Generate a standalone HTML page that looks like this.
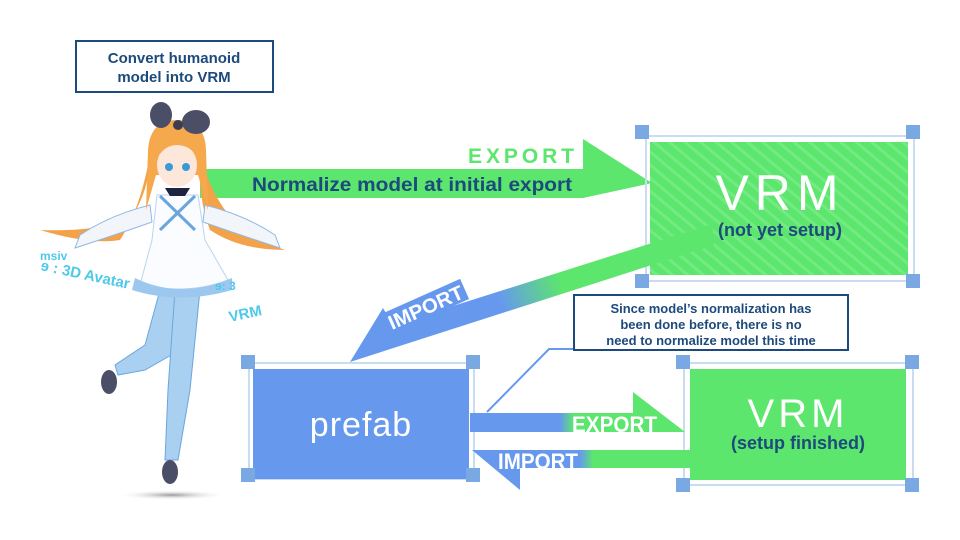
<!DOCTYPE html>
<html><head><meta charset="utf-8"><style>
html,body{margin:0;padding:0;background:#fff;}
svg{display:block;}
text{font-family:"Liberation Sans Narrow","Liberation Sans",sans-serif;}
</style></head><body>
<svg width="960" height="540" viewBox="0 0 960 540" xmlns="http://www.w3.org/2000/svg">
<defs>
<pattern id="st" width="10" height="10" patternUnits="userSpaceOnUse" patternTransform="rotate(-50)">
<rect width="10" height="10" fill="#5ce66e"/><rect width="3" height="10" fill="#74ea83"/></pattern>
<linearGradient id="gd" x1="650" y1="250" x2="350" y2="350" gradientUnits="userSpaceOnUse">
<stop offset="0" stop-color="#5ce66e"/><stop offset="0.3" stop-color="#5ce66e"/><stop offset="0.5" stop-color="#6699ee"/><stop offset="1" stop-color="#6699ee"/></linearGradient>
<linearGradient id="ge" x1="470" y1="0" x2="690" y2="0" gradientUnits="userSpaceOnUse">
<stop offset="0.41" stop-color="#6699ee"/><stop offset="0.47" stop-color="#5ce66e"/></linearGradient>
<linearGradient id="gi" x1="470" y1="0" x2="690" y2="0" gradientUnits="userSpaceOnUse">
<stop offset="0.5" stop-color="#6699ee"/><stop offset="0.56" stop-color="#5ce66e"/></linearGradient>
<radialGradient id="sh"><stop offset="0" stop-color="#999"/><stop offset="1" stop-color="#fff" stop-opacity="0"/></radialGradient>
</defs>

<rect x="76" y="41" width="197" height="51" fill="#fff" stroke="#1d4a7c" stroke-width="2"/>
<text x="174" y="63" text-anchor="middle" font-size="15" font-weight="bold" fill="#1d4a7c">Convert humanoid</text>
<text x="174" y="82" text-anchor="middle" font-size="15" font-weight="bold" fill="#1d4a7c">model into VRM</text>

<polygon points="200,169 583,169 583,139 652,183 583,198 200,198" fill="#5ce66e"/>
<text x="468" y="163" font-size="21" font-weight="bold" fill="#5ce66e" textLength="106" lengthAdjust="spacing">EXPORT</text>
<text x="252" y="191" font-size="19" font-weight="bold" fill="#1d4a7c" textLength="320" lengthAdjust="spacingAndGlyphs">Normalize model at initial export</text>

<rect x="646" y="136" width="268" height="145" fill="none" stroke="#c9ddf0" stroke-width="2"/>
<rect x="650" y="142" width="258" height="133" fill="url(#st)"/>
<rect x="635" y="125" width="14" height="14" fill="#7aa8e2"/><rect x="906" y="125" width="14" height="14" fill="#7aa8e2"/>
<rect x="635" y="274" width="14" height="14" fill="#7aa8e2"/><rect x="906" y="274" width="14" height="14" fill="#7aa8e2"/>
<text x="780" y="210" text-anchor="middle" font-size="50" fill="#fff" letter-spacing="6">VRM</text>
<text x="780" y="236" text-anchor="middle" font-size="18" font-weight="bold" fill="#1d4a7c">(not yet setup)</text>

<polygon points="712,224 714,245 350,362 383,308 393,325" fill="url(#gd)"/>
<g transform="translate(392,330) rotate(-24)">
<rect x="-3" y="-19" width="86" height="22" fill="#6699ee"/>
<text x="0" y="0" font-size="20" font-weight="bold" fill="#fff" textLength="80" lengthAdjust="spacingAndGlyphs">IMPORT</text>
</g>

<polyline points="574,349 549,349 487,412" fill="none" stroke="#6699ee" stroke-width="2"/>
<rect x="574" y="295" width="274" height="55" fill="#fff" stroke="#1d4a7c" stroke-width="2"/>
<text x="711" y="313" text-anchor="middle" font-size="13" font-weight="bold" fill="#1d4a7c">Since model’s normalization has</text>
<text x="711" y="329" text-anchor="middle" font-size="13" font-weight="bold" fill="#1d4a7c">been done before, there is no</text>
<text x="711" y="345" text-anchor="middle" font-size="13" font-weight="bold" fill="#1d4a7c">need to normalize model this time</text>

<rect x="249" y="363" width="225" height="116" fill="none" stroke="#c9ddf0" stroke-width="2"/>
<rect x="253" y="369" width="216" height="110" fill="#6699ee"/>
<rect x="241" y="355" width="14" height="14" fill="#7aa8e2"/><rect x="466" y="355" width="14" height="14" fill="#7aa8e2"/>
<rect x="241" y="468" width="14" height="14" fill="#7aa8e2"/><rect x="466" y="468" width="14" height="14" fill="#7aa8e2"/>
<text x="361" y="436" text-anchor="middle" font-size="34" fill="#fff" letter-spacing="1">prefab</text>

<rect x="684" y="363" width="229" height="122" fill="none" stroke="#c9ddf0" stroke-width="2"/>
<rect x="690" y="369" width="216" height="111" fill="#5ce66e"/>
<rect x="676" y="355" width="14" height="14" fill="#7aa8e2"/><rect x="905" y="355" width="14" height="14" fill="#7aa8e2"/>
<rect x="676" y="478" width="14" height="14" fill="#7aa8e2"/><rect x="905" y="478" width="14" height="14" fill="#7aa8e2"/>
<text x="798" y="427" text-anchor="middle" font-size="40" fill="#fff" letter-spacing="4">VRM</text>
<text x="798" y="449" text-anchor="middle" font-size="18" font-weight="bold" fill="#1d4a7c">(setup finished)</text>

<polygon points="470,413 633,413 633,392 685,432 470,432" fill="url(#ge)"/>
<text x="572" y="432" font-size="22" font-weight="bold" fill="#fff" textLength="85" lengthAdjust="spacingAndGlyphs">EXPORT</text>
<polygon points="690,450 690,468 520,468 520,490 472,450" fill="url(#gi)"/>
<text x="498" y="469" font-size="22" font-weight="bold" fill="#fff" textLength="80" lengthAdjust="spacingAndGlyphs">IMPORT</text>

<ellipse cx="172" cy="495" rx="55" ry="5" fill="url(#sh)"/>
<path d="M150,155 Q140,210 120,240 Q90,245 40,230 Q90,232 130,220 Q150,190 150,155Z" fill="#f4a24a"/>
<path d="M200,155 Q215,210 250,235 Q270,245 285,250 Q240,250 210,230 Q198,200 200,155Z" fill="#f4a24a"/>
<path d="M150,205 Q110,215 80,235 L75,248 Q115,235 152,222Z" fill="#f2f6fb" stroke="#8fb8e6"/>
<path d="M205,205 Q245,215 275,235 L280,248 Q240,235 203,222Z" fill="#f2f6fb" stroke="#8fb8e6"/>
<path d="M160,290 L185,290 L180,350 L145,370 L118,375 L115,365 L145,345Z" fill="#a9d0f0" stroke="#6aa6dc"/>
<path d="M175,290 L200,290 L190,390 L178,460 L165,460 L168,390Z" fill="#a9d0f0" stroke="#6aa6dc"/>
<ellipse cx="109" cy="382" rx="8" ry="12" fill="#4a4e66"/>
<ellipse cx="170" cy="472" rx="8" ry="12" fill="#4a4e66"/>
<path d="M157,195 L198,195 L205,240 L228,280 Q190,295 140,285 L152,240Z" fill="#fafcff" stroke="#b9d5ef"/>
<path d="M135,278 Q180,300 232,278 L232,290 Q180,305 132,290Z" fill="#9cc8ef"/>
<path d="M160,196 L195,230 M195,196 L160,230" stroke="#6aa6dc" stroke-width="3"/>
<path d="M148,150 Q150,120 177,120 Q205,120 206,150 L208,210 L198,175 L156,175 L146,210Z" fill="#f6a84d"/>
<ellipse cx="177" cy="165" rx="20" ry="22" fill="#fde6da"/>
<path d="M157,158 Q165,135 177,135 Q192,135 198,158 Q190,145 177,145 Q165,145 157,158Z" fill="#f6a84d"/>
<circle cx="169" cy="167" r="4" fill="#3a9ad9"/><circle cx="186" cy="167" r="4" fill="#3a9ad9"/>
<path d="M165,188 L190,188 L185,196 L170,196Z" fill="#1d2440"/>
<ellipse cx="161" cy="115" rx="11" ry="13" fill="#4a4e66"/>
<ellipse cx="196" cy="122" rx="14" ry="12" fill="#4a4e66"/>
<circle cx="178" cy="125" r="5" fill="#3b3e52"/>
<text x="40" y="270" font-size="15" font-weight="bold" fill="#4ec9ea" transform="rotate(12 40 270)">ɘ : 3D Avatar</text>
<text x="230" y="322" font-size="15" font-weight="bold" fill="#4ec9ea" transform="rotate(-12 230 322)">VRM</text>
<text x="40" y="260" font-size="12" font-weight="bold" fill="#4ec9ea">msiv</text>
<text x="215" y="290" font-size="12" font-weight="bold" fill="#4ec9ea">ɘ: 3</text>
</svg>
</body></html>
